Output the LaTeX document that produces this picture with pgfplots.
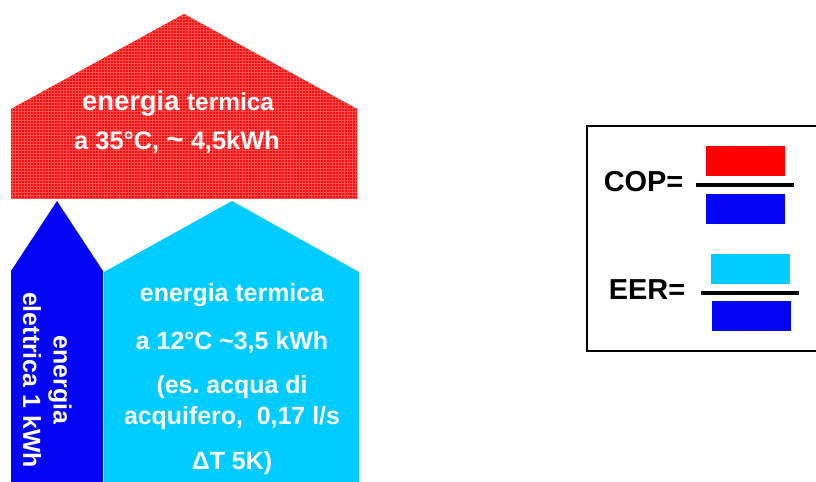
\documentclass[border=0pt]{standalone}
\usepackage{pgfplots}
\pgfplotsset{compat=1.18}
\usetikzlibrary{patterns}
\usepackage{fontspec}
\setmainfont{Liberation Sans}
\frenchspacing
\definecolor{myred}{RGB}{245,15,15}
\definecolor{myblue}{RGB}{5,5,245}
\definecolor{mycyan}{RGB}{0,204,255}
\newcommand{\tld}{{\char"7E\relax}}
\begin{document}
\begin{tikzpicture}
\begin{axis}[
  x=1bp, y=1bp, y dir=reverse,
  xmin=0, xmax=816, ymin=0, ymax=482,
  hide axis, clip=true,
]
\path (rel axis cs:0,0) (rel axis cs:1,1);
% red pentagon (thermal energy out)
\addplot[draw=none, fill=myred] coordinates {(11,199)(11,109)(184,14)(357,109)(357,199)} -- cycle;
\addplot[draw=none, pattern=grid, pattern color=red!70!white] coordinates {(11,199)(11,109)(184,14)(357,109)(357,199)} -- cycle;
% dark blue arrow (electric energy)
\addplot[draw=none, fill=myblue] coordinates {(11,490)(11,271)(57,201)(103,271)(103,490)} -- cycle;
% cyan pentagon (thermal energy in)
\addplot[draw=none, fill=mycyan] coordinates {(104,490)(104,272)(232,201)(359,272)(359,490)} -- cycle;
% box
\addplot[black, line width=2.5bp] coordinates {(840,126)(587,126)(587,351)(840,351)};
% COP fraction
\addplot[draw=none, fill=red] coordinates {(706,146)(785,146)(785,176)(706,176)} -- cycle;
\addplot[draw=none, fill=myblue] coordinates {(706,194)(785,194)(785,224)(706,224)} -- cycle;
\addplot[black, line width=4bp] coordinates {(696,185)(794,185)};
% EER fraction
\addplot[draw=none, fill=mycyan] coordinates {(711,254)(790,254)(790,284)(711,284)} -- cycle;
\addplot[draw=none, fill=myblue] coordinates {(712,301)(791,301)(791,331)(712,331)} -- cycle;
\addplot[black, line width=4bp] coordinates {(701,293)(799,293)};
% texts
\node[text=white, font=\bfseries] at (axis cs:178,103) {\fontsize{27.5}{30}\selectfont energia \fontsize{24.5}{28}\selectfont termica};
\node[text=white, font=\bfseries\fontsize{25.5}{30}\selectfont] at (axis cs:177,142) {a 35°C, {\fontsize{30}{30}\selectfont\tld} 4,5kWh};
\node[text=white, font=\bfseries\fontsize{25}{30}\selectfont] at (axis cs:232,295) {energia termica};
\node[text=white, font=\bfseries\fontsize{25}{30}\selectfont] at (axis cs:232,342) {a 12°C \tld3,5 kWh};
\node[text=white, font=\bfseries\fontsize{25}{30}\selectfont] at (axis cs:232,387) {(es. acqua di};
\node[text=white, font=\bfseries\fontsize{25}{30}\selectfont] at (axis cs:232,418) {acquifero,\ \ 0,17 l/s};
\node[text=white, font=\bfseries\fontsize{25}{30}\selectfont] at (axis cs:232,463) {ΔT 5K)};
\node[text=white, font=\bfseries\fontsize{25}{30}\selectfont, rotate=-90] at (axis cs:60,380) {energia};
\node[text=white, font=\bfseries\fontsize{25}{30}\selectfont, rotate=-90] at (axis cs:32,380) {elettrica 1 kWh};
\node[text=black, font=\bfseries\fontsize{29}{32}\selectfont] at (axis cs:643.5,182) {COP=};
\node[text=black, font=\bfseries\fontsize{29}{32}\selectfont] at (axis cs:647,290) {EER=};
\end{axis}
\end{tikzpicture}
\end{document}
